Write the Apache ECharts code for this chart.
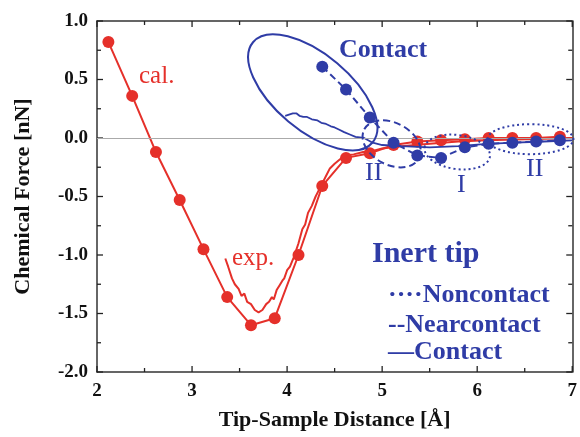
<!DOCTYPE html>
<html>
<head>
<meta charset="utf-8">
<script src="https://cdn.jsdelivr.net/npm/echarts@6/dist/echarts.min.js"></script>
<style>
  html, body { margin: 0; background: #fff; }
  #chart { width: 580px; height: 437px; }
</style>
</head>
<body>
<div id="chart"></div>
<script>
// calculated force (red dots)
const calX = [2.12, 2.37, 2.62, 2.87, 3.12, 3.37, 3.62, 3.87, 4.12, 4.37, 4.62, 4.87, 5.12, 5.37, 5.62, 5.87, 6.12, 6.37, 6.62, 6.87];
const calY = [0.82, 0.36, -0.12, -0.53, -0.95, -1.36, -1.60, -1.54, -1.00, -0.41, -0.17, -0.13, -0.06, -0.03, -0.02, -0.01, 0.00, 0.00, 0.00, 0.01];

// experimental curve (red, no markers)
const expX = [3.35, 3.38, 3.42, 3.45, 3.49, 3.52, 3.55, 3.58, 3.62, 3.66, 3.70, 3.74, 3.78, 3.81, 3.84, 3.86, 3.89, 3.92, 3.95, 3.97, 4.00, 4.03, 4.07, 4.12, 4.16, 4.19, 4.22, 4.26, 4.30, 4.35, 4.40, 4.45, 4.50, 4.56, 4.62, 4.70, 4.80, 4.90, 5.00, 5.20, 5.50, 5.80, 6.10, 6.50, 7.00];
const expY = [-1.03, -1.10, -1.20, -1.25, -1.29, -1.35, -1.33, -1.40, -1.42, -1.47, -1.49, -1.47, -1.42, -1.40, -1.36, -1.38, -1.30, -1.26, -1.22, -1.20, -1.13, -1.10, -1.02, -0.90, -0.78, -0.74, -0.64, -0.58, -0.50, -0.42, -0.34, -0.26, -0.22, -0.18, -0.15, -0.14, -0.12, -0.11, -0.09, -0.07, -0.05, -0.03, -0.02, -0.01, 0.00];

// inert tip, contact experiment (blue solid)
const contactExpX = [3.98, 4.02, 4.06, 4.10, 4.13, 4.17, 4.21, 4.26, 4.32, 4.36, 4.41, 4.46, 4.50, 4.55, 4.60, 4.66, 4.72, 4.81, 4.90, 5.00, 5.20, 5.50, 5.80, 6.10, 6.40, 6.70, 7.00];
const contactExpY = [0.19, 0.20, 0.21, 0.21, 0.19, 0.18, 0.18, 0.16, 0.15, 0.13, 0.12, 0.10, 0.09, 0.07, 0.05, 0.03, 0.01, 0.00, -0.04, -0.06, -0.07, -0.08, -0.07, -0.05, -0.04, -0.03, -0.02];

// inert tip, calculated (blue dots)
const inertX = [4.37, 4.62, 4.87, 5.12, 5.37, 5.62, 5.87, 6.12, 6.37, 6.62, 6.87];
const inertY = [0.61, 0.415, 0.175, -0.04, -0.15, -0.17, -0.08, -0.05, -0.04, -0.03, -0.02];

// circled regions: centre x, centre y (data units)
const ringX = [4.27, 5.10, 5.79, 6.56];
const ringY = [0.39, -0.05, -0.12, -0.01];

// tick positions (major + minor) on the box frame
const xTicks = [2, 2.5, 3, 3.5, 4, 4.5, 5, 5.5, 6, 6.5, 7];
const yTicks = [-2, -1.75, -1.5, -1.25, -1, -0.75, -0.5, -0.25, 0, 0.25, 0.5, 0.75, 1];

const RED = '#e5302a';
const BLUE = '#2f3ca6';
const SERIF = '"Liberation Serif", "DejaVu Serif", serif';

// look of each ring: radii in px, tilt in degrees, dash
const ringLook = [
  { rx: 78, ry: 38, deg: -40, dash: null },
  { rx: 31, ry: 21, deg: -28, dash: [7, 4] },
  { rx: 33, ry: 17, deg: -8, dash: [2, 3] },
  { rx: 43, ry: 15, deg: 0, dash: [2, 3] }
];

const zip = (xs, ys) => xs.map((x, i) => [x, ys[i]]);

const chart = echarts.init(document.getElementById('chart'));

const axisLine = () => ({ show: true, onZero: false, lineStyle: { color: '#333', width: 1.5 } });
const labelFont = () => ({ color: '#111', fontFamily: SERIF, fontWeight: 'bold', fontSize: 22 });

const txt = (text, left, top, size, color, weight) => ({
  type: 'text', left: left, top: top, z: 20, silent: true,
  style: { text: text, fill: color, font: (weight || 'normal') + ' ' + size + 'px ' + SERIF }
});

const tickLine = (x1, y1, x2, y2) => ({
  type: 'line', shape: { x1: x1, y1: y1, x2: x2, y2: y2 },
  style: { stroke: '#222', lineWidth: 1.3 }
});

const isStep = (v, step) => Math.abs(v / step - Math.round(v / step)) < 1e-9;

chart.setOption({
  animation: false,
  backgroundColor: '#fff',
  grid: { left: 97, right: 3, top: 21, bottom: 65 },
  xAxis: [
    {
      type: 'value', min: 2, max: 7, interval: 1,
      axisLine: axisLine(), axisTick: { show: false }, splitLine: { show: false },
      axisLabel: { color: '#111', fontFamily: SERIF, fontWeight: 'bold', fontSize: 19, margin: 10 },
      name: 'Tip-Sample Distance [Å]', nameLocation: 'middle', nameGap: 37,
      nameTextStyle: labelFont()
    },
    {
      type: 'value', min: 2, max: 7, interval: 1, position: 'top',
      axisLine: axisLine(), axisTick: { show: false },
      splitLine: { show: false }, axisLabel: { show: false }
    }
  ],
  yAxis: [
    {
      type: 'value', min: -2, max: 1, interval: 0.5,
      axisLine: axisLine(), axisTick: { show: false }, splitLine: { show: false },
      axisLabel: { color: '#111', fontFamily: SERIF, fontWeight: 'bold', fontSize: 19, margin: 9,
        formatter: v => v.toFixed(1) },
      name: 'Chemical Force [nN]', nameLocation: 'middle', nameGap: 63,
      nameTextStyle: labelFont()
    },
    {
      type: 'value', min: -2, max: 1, interval: 0.5, position: 'right',
      axisLine: axisLine(), axisTick: { show: false },
      splitLine: { show: false }, axisLabel: { show: false }
    }
  ],
  graphic: [
    txt('cal.', 139, 64, 25, RED),
    txt('exp.', 232, 246, 25, RED),
    txt('Contact', 339, 37, 26, BLUE, 'bold'),
    txt('II', 365, 160, 26, BLUE),
    txt('I', 457, 172, 26, BLUE),
    txt('II', 526, 156, 26, BLUE),
    txt('Inert tip', 372, 239, 30, BLUE, 'bold'),
    txt('····Noncontact', 388, 282, 26, BLUE, 'bold'),
    txt('--Nearcontact', 388, 312, 26, BLUE, 'bold'),
    txt('—Contact', 388, 339, 26, BLUE, 'bold')
  ],
  series: [
    {
      // ticks on bottom and top edges
      name: 'xticks', type: 'custom', silent: true, z: 1,
      data: xTicks.map(v => [v, -2]),
      renderItem: (params, api) => {
        const v = api.value(0);
        const p = api.coord([v, -2]);
        const cs = params.coordSys;
        const len = isStep(v, 1) ? 6 : 4;
        return {
          type: 'group', children: [
            tickLine(p[0], cs.y + cs.height, p[0], cs.y + cs.height - len),
            tickLine(p[0], cs.y, p[0], cs.y + len)
          ]
        };
      }
    },
    {
      // ticks on left and right edges
      name: 'yticks', type: 'custom', silent: true, z: 1,
      data: yTicks.map(v => [2, v]),
      renderItem: (params, api) => {
        const v = api.value(1);
        const p = api.coord([2, v]);
        const cs = params.coordSys;
        const len = isStep(v, 0.5) ? 6 : 4;
        return {
          type: 'group', children: [
            tickLine(cs.x, p[1], cs.x + len, p[1]),
            tickLine(cs.x + cs.width, p[1], cs.x + cs.width - len, p[1])
          ]
        };
      }
    },
    {
      name: 'exp.', type: 'line', data: zip(expX, expY),
      showSymbol: false, lineStyle: { color: RED, width: 2 }, z: 2,
      markLine: {
        silent: true, symbol: 'none', label: { show: false },
        lineStyle: { color: '#aaa', width: 1, type: 'solid' },
        data: [{ yAxis: 0 }]
      }
    },
    {
      name: 'cal.', type: 'line', data: zip(calX, calY),
      symbol: 'circle', symbolSize: 12,
      itemStyle: { color: RED }, lineStyle: { color: RED, width: 2 }, z: 3
    },
    {
      name: 'Contact exp', type: 'line', data: zip(contactExpX, contactExpY),
      showSymbol: false, lineStyle: { color: BLUE, width: 1.8 }, z: 4
    },
    {
      name: 'Inert tip', type: 'line', data: zip(inertX, inertY),
      symbol: 'circle', symbolSize: 12,
      itemStyle: { color: BLUE }, lineStyle: { color: BLUE, width: 2, type: [7, 4] }, z: 5
    },
    {
      name: 'rings', type: 'custom', data: zip(ringX, ringY), z: 6, silent: true,
      renderItem: (params, api) => {
        const p = api.coord([api.value(0), api.value(1)]);
        const look = ringLook[params.dataIndex];
        return {
          type: 'ellipse', x: p[0], y: p[1], rotation: look.deg * Math.PI / 180,
          shape: { cx: 0, cy: 0, rx: look.rx, ry: look.ry },
          style: { fill: 'none', stroke: BLUE, lineWidth: 2, lineDash: look.dash || null }
        };
      }
    }
  ]
});
</script>
</body>
</html>
